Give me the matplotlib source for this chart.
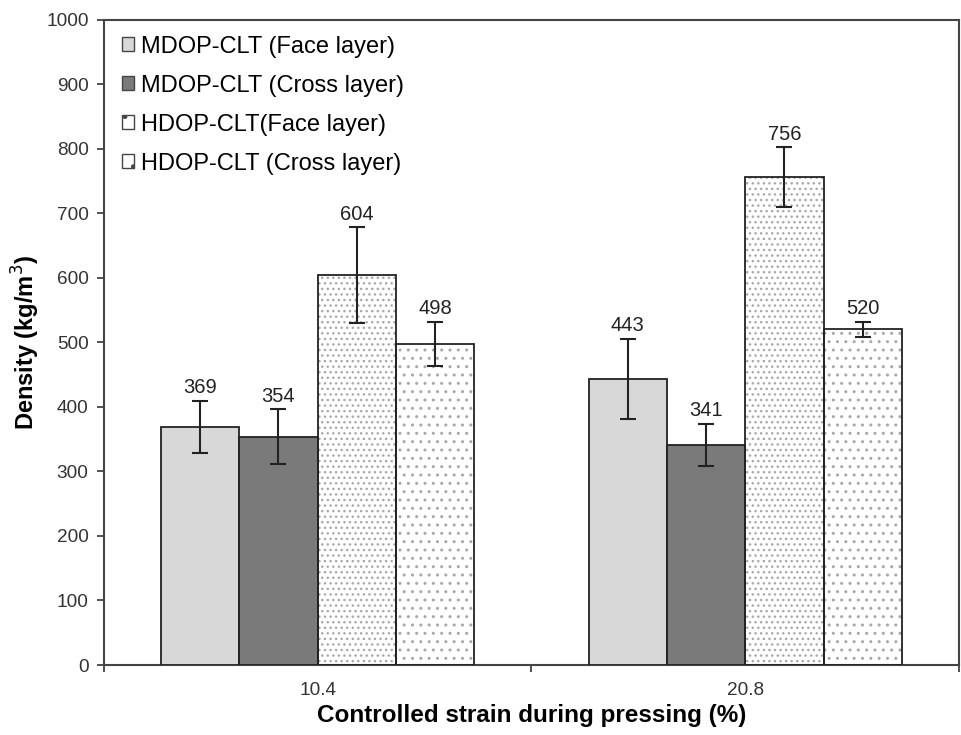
import numpy as np
from matplotlib import pyplot as plt
from matplotlib.patches import Patch

plt.rcParams['font.family'] = ['Liberation Sans', 'DejaVu Sans']

# Data
strainLabels = ["10.4", "20.8"]
seriesNames = ["MDOP-CLT (Face layer)", "MDOP-CLT (Cross layer)",
               "HDOP-CLT(Face layer)", "HDOP-CLT (Cross layer)"]
mdopFace = [369, 443]
mdopCross = [354, 341]
hdopFace = [604, 756]
hdopCross = [498, 520]
mdopFaceErr = [40, 62]
mdopCrossErr = [42, 32]
hdopFaceErr = [74, 46]
hdopCrossErr = [34, 12]

allValues = [mdopFace, mdopCross, hdopFace, hdopCross]
allErrors = [mdopFaceErr, mdopCrossErr, hdopFaceErr, hdopCrossErr]

# styles: (face colour, hatch)
styles = [("#d8d8d8", None), ("#7a7a7a", None), ("white", "..."), ("white", "..")]
hatchColour = "#a8a8a8"

fig = plt.figure(figsize=(9.61, 7.35), dpi=100)
ax = fig.add_axes([0.108, 0.0952, 0.89, 0.878])

x = np.arange(len(strainLabels))
barWidth = 0.183

for i, (vals, errs) in enumerate(zip(allValues, allErrors)):
    colour, hatch = styles[i]
    pos = x + (i - 1.5) * barWidth
    if hatch:
        # hatch layer in grey, then the black outline on top
        ax.bar(pos, vals, barWidth, color=colour, edgecolor=hatchColour, hatch=hatch, linewidth=0, zorder=2)
        ax.bar(pos, vals, barWidth, fill=False, edgecolor="#222222", linewidth=1.3, zorder=3)
    else:
        ax.bar(pos, vals, barWidth, color=colour, edgecolor="#222222", linewidth=1.3, zorder=3)
    ax.errorbar(pos, vals, yerr=errs, fmt="none", ecolor="#222222", elinewidth=1.5, capsize=6, capthick=1.5, zorder=4)
    for p, v, e in zip(pos, vals, errs):
        ax.text(p, v + e + 6, str(v), ha="center", va="bottom", fontsize=14.5, color="#222222")

ax.set_xlim(-0.5, 1.5)
ax.set_ylim(0, 1000)
ax.set_yticks(np.arange(0, 1001, 100))
ax.tick_params(axis="y", direction="out", length=5, width=1.2, labelsize=13.7, colors="#333333", pad=6)

ax.set_xticks([-0.5, 0.5, 1.5])
ax.set_xticklabels(["", "", ""])
ax.set_xticks(x, minor=True)
ax.set_xticklabels(strainLabels, minor=True)
ax.tick_params(axis="x", which="major", direction="out", length=5, width=1.2, colors="#333333")
ax.tick_params(axis="x", which="minor", length=0, labelsize=13.7, labelcolor="#333333", pad=12)

for spine in ax.spines.values():
    spine.set_color("#444444")
    spine.set_linewidth(1.5)

ax.set_xlabel("Controlled strain during pressing (%)", fontsize=17.5, fontweight="bold", labelpad=4)
ax.set_ylabel("Density (kg/m$^3$)", fontsize=17, fontweight="bold", labelpad=3)

handles = []
for (colour, hatch), name in zip(styles, seriesNames):
    if hatch:
        handles.append(Patch(facecolor=colour, edgecolor="#444444", hatch=".", linewidth=1, label=name))
    else:
        handles.append(Patch(facecolor=colour, edgecolor="#444444", linewidth=1, label=name))
ax.legend(handles=handles, loc="upper left", frameon=False, fontsize=17,
          handlelength=0.5, handleheight=0.5, handletextpad=0.3, labelspacing=0.72,
          borderaxespad=0.0, bbox_to_anchor=(0.01, 0.99))

fig.savefig("out.png", dpi=100)
